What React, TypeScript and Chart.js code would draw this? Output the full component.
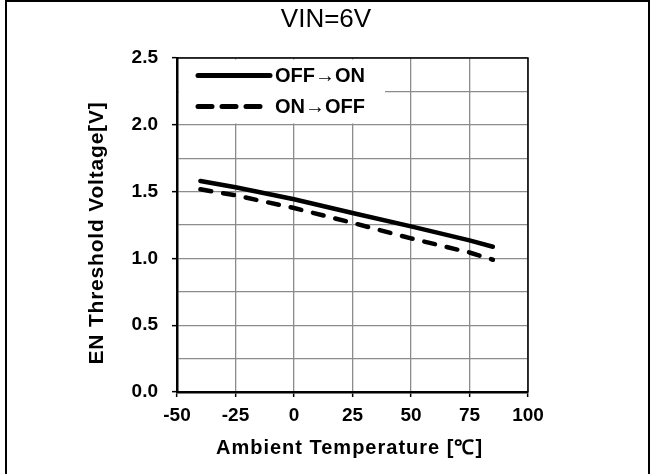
import React, { useEffect, useRef } from "react";
import { Chart, registerables } from "chart.js";

Chart.register(...registerables);

const chartTitle = "VIN=6V";
const xTitle = "Ambient Temperature [℃]";
const yTitle = "EN Threshold Voltage[V]";
const temps = [-40, -25, 0, 25, 50, 75, 85];
const offToOn = [1.58, 1.532, 1.443, 1.34, 1.24, 1.135, 1.087];
const onToOff = [1.517, 1.472, 1.377, 1.266, 1.15, 1.044, 0.99];
const seriesLabels = ["OFF→ON", "ON→OFF"];
const xTicks = [-50, -25, 0, 25, 50, 75, 100];
const yTickLabels = ["0.0", "0.5", "1.0", "1.5", "2.0", "2.5"];

const FONT = "'Liberation Sans', Arial, Helvetica, sans-serif";

const framePlugin = {
  id: "frameAndLegend",
  beforeDatasetsDraw(chart: any) {
    const { ctx, chartArea } = chart;
    const { left, top, right } = chartArea;
    ctx.save();
    // legend box
    ctx.fillStyle = "#ffffff";
    ctx.fillRect(left + 2, top + 1.5, 206, 64);
    const items = chart.data.datasets;
    const rowY = [top + 17.5, top + 48.5];
    items.forEach((ds: any, i: number) => {
      const y = rowY[i];
      ctx.beginPath();
      ctx.lineWidth = 5;
      ctx.lineCap = "round";
      ctx.strokeStyle = "#000";
      if (ds.borderDash && ds.borderDash.length) {
        ctx.setLineDash([14, 10]);
        ctx.moveTo(left + 21, y);
        ctx.lineTo(left + 90, y);
      } else {
        ctx.setLineDash([]);
        ctx.moveTo(left + 21, y);
        ctx.lineTo(left + 93, y);
      }
      ctx.stroke();
      ctx.setLineDash([]);
      ctx.fillStyle = "#000";
      ctx.font = "bold 20px " + FONT;
      ctx.textBaseline = "middle";
      ctx.textAlign = "left";
      ctx.fillText(ds.label, left + 98, y + 0.5);
    });
    // top and right frame
    ctx.beginPath();
    ctx.lineWidth = 1.5;
    ctx.strokeStyle = "#000";
    ctx.moveTo(left, top);
    ctx.lineTo(right, top);
    ctx.lineTo(right, chartArea.bottom);
    ctx.stroke();
    ctx.restore();
  },
  afterDraw(chart: any) {
    const { ctx, chartArea } = chart;
    ctx.save();
    ctx.fillStyle = "#000";
    ctx.textAlign = "center";
    ctx.textBaseline = "middle";
    // chart title
    ctx.font = "normal 26px " + FONT;
    ctx.fillText(chartTitle, 326, 20);
    // x title
    ctx.font = "bold 20px " + FONT;
    (ctx as any).letterSpacing = "1px";
    ctx.fillText(xTitle, (chartArea.left + chartArea.right) / 2 - 3, 448);
    // y title
    ctx.font = "bold 21px " + FONT;
    (ctx as any).letterSpacing = "0.8px";
    ctx.translate(97, (chartArea.top + chartArea.bottom) / 2 + 8);
    ctx.rotate(-Math.PI / 2);
    ctx.fillText(yTitle, 0, 0);
    (ctx as any).letterSpacing = "0px";
    ctx.restore();
  },
};

export default function App() {
  const ref = useRef<HTMLCanvasElement | null>(null);

  useEffect(() => {
    if (!ref.current) return;
    const chart = new Chart(ref.current, {
      type: "line",
      data: {
        datasets: [
          {
            label: seriesLabels[0],
            data: temps.map((t, i) => ({ x: t, y: offToOn[i] })),
            borderColor: "#000",
            borderWidth: 4.5,
            borderCapStyle: "round",
            pointRadius: 0,
            tension: 0,
            fill: false,
          },
          {
            label: seriesLabels[1],
            data: temps.map((t, i) => ({ x: t, y: onToOff[i] })),
            borderColor: "#000",
            borderWidth: 4.5,
            borderDash: [11, 12],
            borderCapStyle: "round",
            pointRadius: 0,
            tension: 0,
            fill: false,
          },
        ],
      },
      options: {
        animation: false,
        responsive: false,
        maintainAspectRatio: false,
        layout: { padding: { left: 0, right: 123, top: 58, bottom: 0 } },
        plugins: {
          legend: { display: false },
          tooltip: { enabled: false },
          title: { display: false },
        },
        scales: {
          x: {
            type: "linear",
            min: -50,
            max: 100,
            afterBuildTicks: (scale: any) => {
              scale.ticks = xTicks.map((v) => ({ value: v }));
            },
            afterFit: (scale: any) => {
              scale.height = 82;
            },
            ticks: {
              color: "#000",
              font: { family: FONT, size: 19, weight: "bold" },
              padding: 7,
              maxRotation: 0,
              autoSkip: false,
              callback: (v: any) => String(v),
            },
            grid: {
              color: "#8c8c8c",
              lineWidth: 1.3,
              tickLength: 5,
              tickColor: "#000",
              tickWidth: 1.5,
            },
            border: { color: "#000", width: 2.5 },
            title: { display: false },
          },
          y: {
            type: "linear",
            min: 0,
            max: 2.5,
            ticks: {
              stepSize: 0.25,
              color: "#000",
              font: { family: FONT, size: 19, weight: "bold" },
              padding: 14,
              autoSkip: false,
              callback: (v: any) => {
                const idx = Math.round(Number(v) / 0.5);
                return Math.abs(Number(v) - idx * 0.5) < 1e-6 ? yTickLabels[idx] : "";
              },
            },
            afterFit: (scale: any) => {
              scale.width = 177;
            },
            grid: {
              color: "#8c8c8c",
              lineWidth: 1.3,
              tickLength: 5,
              tickWidth: 1.5,
              tickColor: (ctx: any) => {
                const v = ctx.tick ? ctx.tick.value : 0;
                return Math.abs(v / 0.5 - Math.round(v / 0.5)) < 1e-6 ? "#000" : "rgba(0,0,0,0)";
              },
            },
            border: { color: "#000", width: 2.5 },
            title: { display: false },
          },
        },
      },
      plugins: [framePlugin],
    } as any);
    return () => chart.destroy();
  }, []);

  return (
    <div style={{ position: "absolute", left: 0, top: 0, width: 651, height: 474, background: "#fff", overflow: "hidden" }}>
      <canvas ref={ref} width={651} height={474} style={{ position: "absolute", left: 0, top: 0, width: 651, height: 474 }} />
      <div
        style={{
          position: "absolute",
          left: 5,
          top: 0,
          width: 645,
          height: 500,
          boxSizing: "border-box",
          border: "2.5px solid #000",
          pointerEvents: "none",
        }}
      />
    </div>
  );
}
